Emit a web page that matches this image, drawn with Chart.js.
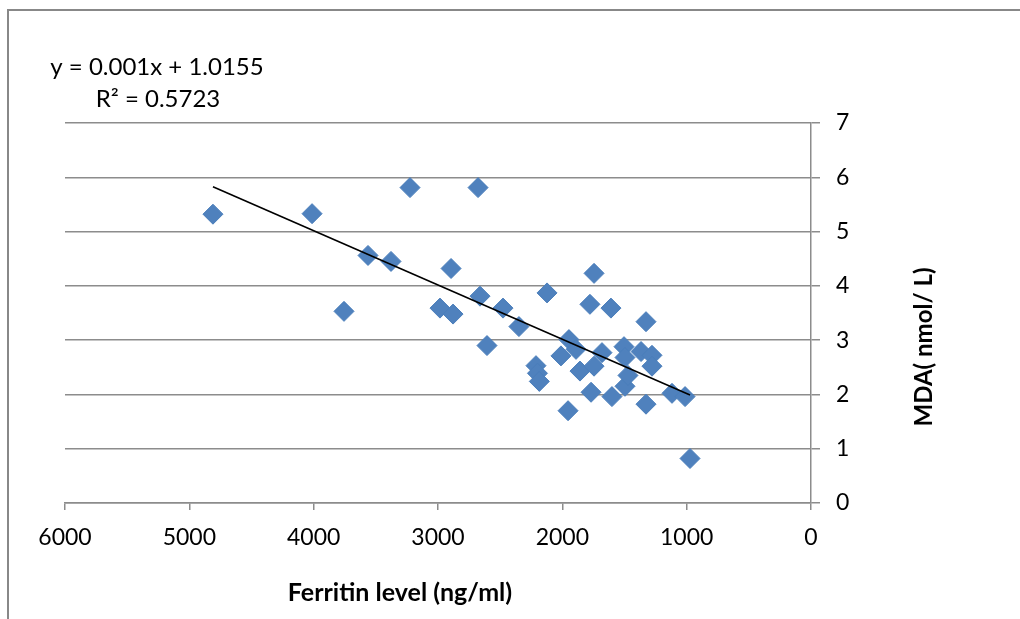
<!DOCTYPE html>
<html>
<head>
<meta charset="utf-8">
<script src="https://cdn.jsdelivr.net/npm/chart.js@4"></script>
<style>
  html, body { margin: 0; padding: 0; background: #fff; }
  #wrap { width: 1020px; height: 619px; position: relative; }
</style>
</head>
<body>
<div id="wrap"><canvas id="c" width="1020" height="619"></canvas></div>
<script>
// Ferritin level (ng/ml)
const ferritin = [4810, 4013, 3225, 2678, 3563, 3378, 3756, 2895, 2984, 2879, 2662, 2477, 2606, 2349, 2123, 2212, 2200, 2185, 1954, 2011, 1947, 1890, 1858, 1778, 1745, 1769, 1745, 1681, 1609, 1601, 1504, 1496, 1496, 1472, 1367, 1327, 1279, 1279, 1327, 1118, 1013, 973];
// MDA (nmol/L)
const mda = [5.32, 5.33, 5.81, 5.81, 4.56, 4.45, 3.53, 4.32, 3.59, 3.48, 3.81, 3.59, 2.90, 3.25, 3.87, 2.53, 2.39, 2.24, 1.70, 2.71, 3.01, 2.83, 2.43, 3.66, 4.23, 2.04, 2.52, 2.77, 3.59, 1.96, 2.88, 2.68, 2.15, 2.35, 2.79, 3.34, 2.72, 2.52, 1.82, 2.02, 1.96, 0.82];
const xTicks = [0, 1000, 2000, 3000, 4000, 5000, 6000];
const yTicks = [0, 1, 2, 3, 4, 5, 6, 7];
const trendSlope = 0.001;
const trendIntercept = 1.0155;
const equationText = "y = 0.001x + 1.0155";
const r2Text = "R² = 0.5723";
const xTitle = "Ferritin level (ng/ml)";
const yTitle = "MDA( nmol/ L)";

const points = ferritin.map((x, i) => ({ x: x, y: mda[i] }));
const xMin = Math.min(...ferritin), xMax = Math.max(...ferritin);
const trend = [xMax, xMin].map(x => ({ x: x, y: trendSlope * x + trendIntercept }));

const FONT = "Lato, 'Open Sans', 'Liberation Sans', sans-serif";

const overlay = {
  id: 'overlay',
  beforeDraw(chart) {
    const ctx = chart.ctx;
    ctx.save();
    ctx.fillStyle = '#fff';
    ctx.fillRect(0, 0, chart.width, chart.height);
    ctx.strokeStyle = '#888';
    ctx.lineWidth = 2;
    ctx.beginPath();
    ctx.moveTo(8, 619);
    ctx.lineTo(8, 10);
    ctx.lineTo(1020, 10);
    ctx.stroke();
    ctx.restore();
  },
  afterDraw(chart) {
    const ctx = chart.ctx;
    ctx.save();
    ctx.fillStyle = '#000';
    ctx.textBaseline = 'middle';
    ctx.textAlign = 'center';
    ctx.font = "24px " + FONT;
    ctx.fillText(equationText, 157, 67);
    ctx.fillText(r2Text, 158, 99);
    ctx.font = "bold 25px " + FONT;
    ctx.fillText(xTitle, 400, 593);
    ctx.translate(924, 347);
    ctx.rotate(-Math.PI / 2);
    ctx.font = "bold 24px " + FONT;
    ctx.fillText(yTitle, 0, 0);
    ctx.restore();
  }
};

new Chart(document.getElementById('c'), {
  type: 'scatter',
  data: {
    datasets: [
      {
        label: 'MDA',
        data: points,
        pointStyle: 'rectRot',
        pointRadius: 10,
        pointHoverRadius: 10,
        backgroundColor: '#4F81BD',
        borderColor: '#4A7EBB',
        borderWidth: 1,
        order: 2
      },
      {
        label: 'Linear',
        type: 'line',
        data: trend,
        borderColor: '#000',
        borderWidth: 1.6,
        pointRadius: 0,
        fill: false,
        order: 1
      }
    ]
  },
  plugins: [overlay],
  options: {
    responsive: false,
    animation: false,
    layout: { padding: { left: 65, top: 123, right: 0, bottom: 0 } },
    plugins: { legend: { display: false }, tooltip: { enabled: false } },
    scales: {
      x: {
        type: 'linear',
        reverse: true,
        min: 0,
        max: 6000,
        afterBuildTicks(scale) { scale.ticks = xTicks.map(v => ({ value: v })); },
        afterFit(scale) { scale.height = 116; },
        grid: { drawOnChartArea: false, drawTicks: true, tickLength: 7, color: '#8c8c8c', lineWidth: 1.5 },
        border: { display: true, color: '#8c8c8c', width: 1.5 },
        ticks: { color: '#000', font: { family: FONT, size: 23 }, padding: 14, maxRotation: 0, callback: v => String(v) }
      },
      y: {
        type: 'linear',
        position: 'right',
        min: 0,
        max: 7,
        afterBuildTicks(scale) { scale.ticks = yTicks.map(v => ({ value: v })); },
        afterFit(scale) { scale.width = 209; },
        grid: { drawOnChartArea: true, drawTicks: true, tickLength: 9, color: '#8c8c8c', lineWidth: 1.5 },
        border: { display: true, color: '#8c8c8c', width: 1.5 },
        ticks: { color: '#000', font: { family: FONT, size: 23 }, padding: 16, callback: v => String(v) }
      }
    }
  }
});
</script>
</body>
</html>
